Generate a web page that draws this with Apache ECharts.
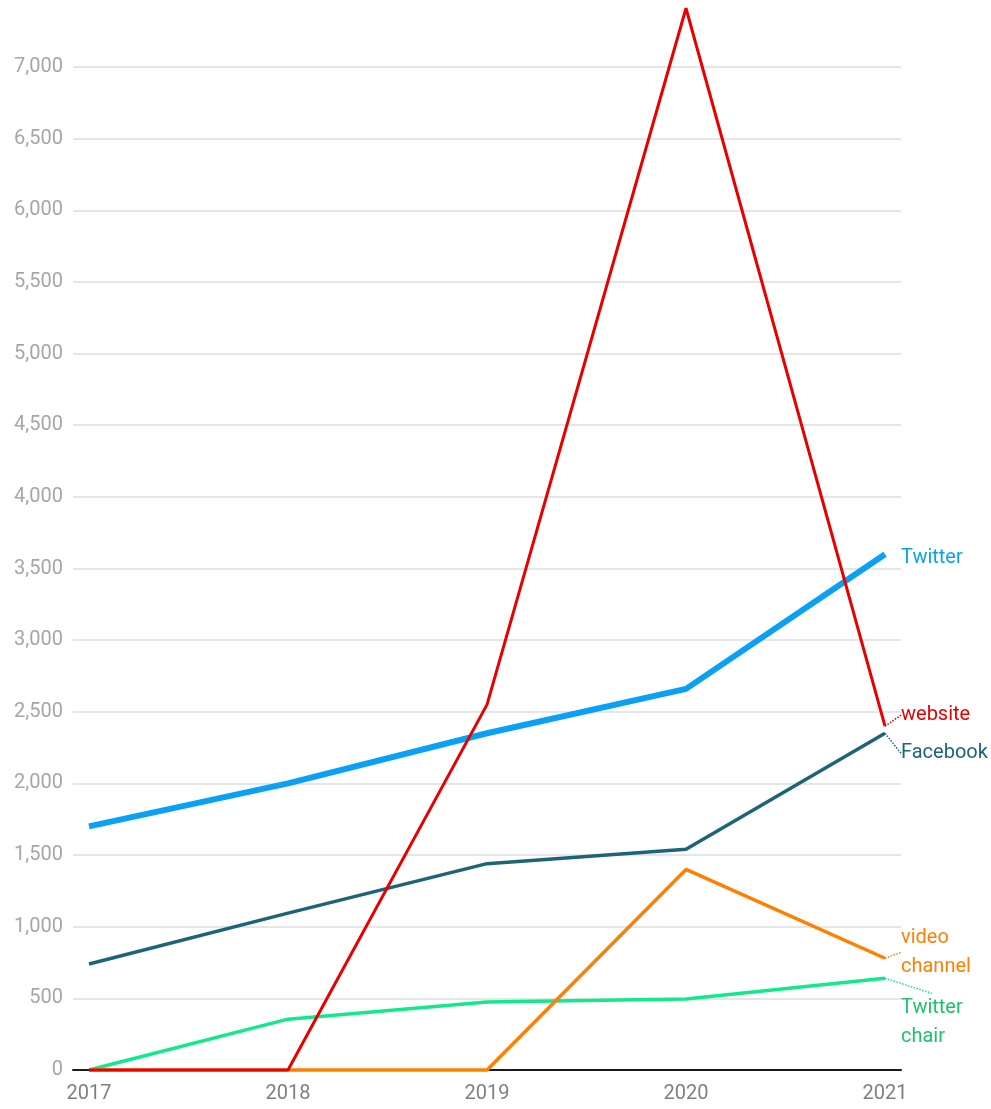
<!DOCTYPE html>
<html>
<head>
<meta charset="utf-8">
<script src="https://cdn.jsdelivr.net/npm/echarts@6/dist/echarts.min.js"></script>
<style>
html,body{margin:0;padding:0;background:#fff;}
#chart{width:991px;height:1109px;}
</style>
</head>
<body>
<div id="chart"></div>
<script>
const years = [2017, 2018, 2019, 2020, 2021];
const yTicks = [0, 500, 1000, 1500, 2000, 2500, 3000, 3500, 4000, 4500, 5000, 5500, 6000, 6500, 7000];
const twitter = [1700, 2000, 2350, 2660, 3600];
const facebook = [740, 1095, 1440, 1540, 2350];
const website = [0, 0, 2550, 7410, 2400];
const videoChannel = [0, 0, 0, 1400, 780];
const twitterChair = [0, 355, 475, 495, 640];

const seriesDefs = [
  { name: 'Twitter chair', label: 'Twitter\nchair', data: twitterChair, color: '#12e88c', text: '#1ec26a', width: 3.5, dy: 44, line: true },
  { name: 'video channel', label: 'video\nchannel', data: videoChannel, color: '#ff8000', text: '#ff8000', width: 3.5, dy: -6, line: true },
  { name: 'Facebook', label: 'Facebook', data: facebook, color: '#1e6479', text: '#1e6479', width: 3.5, dy: 20, line: true },
  { name: 'Twitter', label: 'Twitter', data: twitter, color: '#0aa0f5', text: '#0aa0f5', width: 6, dy: 4, line: false },
  { name: 'website', label: 'website', data: website, color: '#e80000', text: '#e80000', width: 3, dy: -11, line: true }
];

const chart = echarts.init(document.getElementById('chart'));
chart.setOption({
  animation: false,
  backgroundColor: '#fff',
  textStyle: { fontFamily: 'Roboto' },
  grid: { left: 73, right: 90, top: 67, bottom: 39, containLabel: false },
  xAxis: {
    type: 'value',
    min: 2017 - 16 / 199,
    max: 2021 + 16 / 199,
    axisLine: { show: true, onZero: false, lineStyle: { color: '#1a1a1a', width: 2 } },
    axisTick: { show: false },
    splitLine: { show: false },
    axisLabel: {
      customValues: years,
      color: '#808080', fontSize: 20, margin: 14,
      formatter: v => String(v)
    }
  },
  yAxis: {
    type: 'value',
    min: 0, max: 7000, interval: 500,
    axisLine: { show: false },
    axisTick: { show: false },
    splitLine: { show: true, lineStyle: { color: '#e6e6e6', width: 2 } },
    axisLabel: {
      color: '#a6a6a6', fontSize: 20, margin: 10,
      formatter: v => yTicks.indexOf(v) >= 0 ? v.toLocaleString('en-US') : ''
    }
  },
  series: seriesDefs.map((s, si) => ({
    name: s.name,
    type: 'line',
    clip: false,
    symbol: 'circle',
    symbolSize: 0,
    showSymbol: true,
    z: 2 + si,
    lineStyle: { color: s.color, width: s.width },
    itemStyle: { color: s.color },
    label: { show: false },
    labelLayout: { dy: s.dy },
    data: s.data.map((v, i) => {
      const item = { value: [years[i], v] };
      if (i === years.length - 1) {
        item.label = {
          show: true, position: 'right', distance: 16,
          formatter: s.label, color: s.text, fontSize: 20, lineHeight: 29, align: 'left'
        };
        item.labelLine = { show: s.line, lineStyle: { color: s.color, type: 'dotted', width: 1.5 } };
      }
      return item;
    })
  }))
});
</script>
</body>
</html>
